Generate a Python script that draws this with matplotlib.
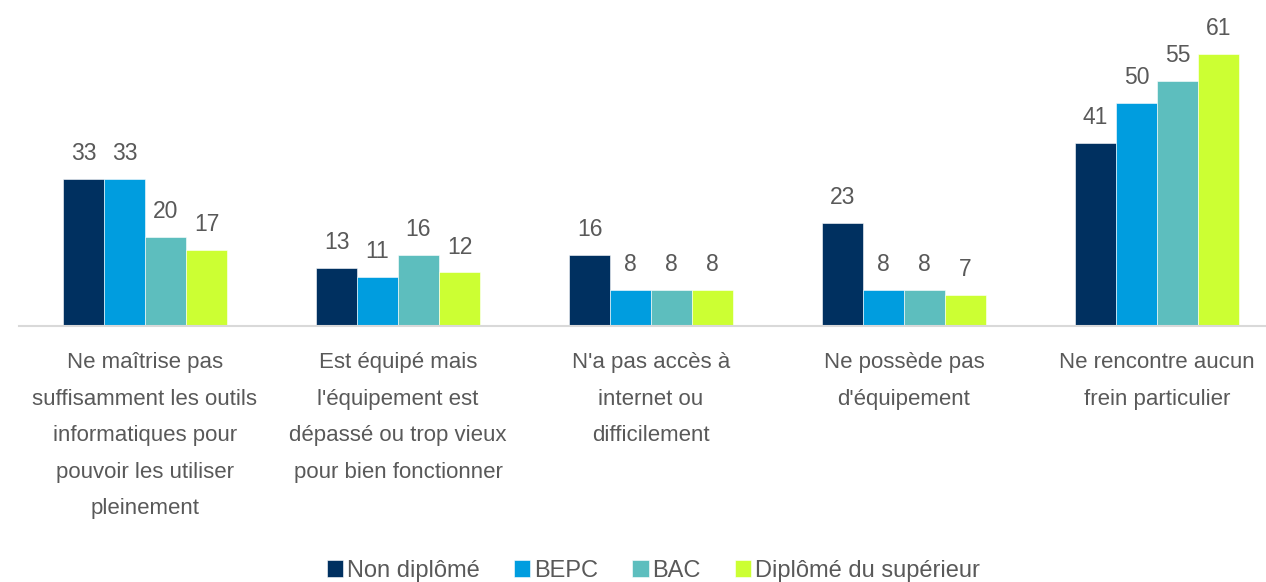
import matplotlib.pyplot as plt
import numpy as np

plt.rcParams['font.family'] = ['Liberation Sans', 'DejaVu Sans']

categories = [
    "Ne maîtrise pas\nsuffisamment les outils\ninformatiques pour\npouvoir les utiliser\npleinement",
    "Est équipé mais\nl'équipement est\ndépassé ou trop vieux\npour bien fonctionner",
    "N'a pas accès à\ninternet ou\ndifficilement",
    "Ne possède pas\nd'équipement",
    "Ne rencontre aucun\nfrein particulier",
]
series_names = ["Non diplômé", "BEPC", "BAC", "Diplômé du supérieur"]
non_diplome = [33, 13, 16, 23, 41]
bepc = [33, 11, 8, 8, 50]
bac = [20, 16, 8, 8, 55]
superieur = [17, 12, 8, 7, 61]
colors = ["#003060", "#009DDF", "#5DBEBE", "#CCFF33"]

text_color = "#595959"
fs = 16

fig = plt.figure(figsize=(12.66, 5.82), dpi=100)
ax = fig.add_axes([18.5 / 1266, 0.44, 1265 / 1266, 0.498])

x = np.arange(len(categories))
w = 0.162
series = [non_diplome, bepc, bac, superieur]
for i, (vals, name, c) in enumerate(zip(series, series_names, colors)):
    pos = x + (i - 1.5) * w
    bars = ax.bar(pos, vals, width=w, color=c, label=name, edgecolor="white", linewidth=0.4)
    for b, v in zip(bars, vals):
        ax.annotate(str(v), (b.get_x() + b.get_width() / 2, v), xytext=(0, 10),
                    textcoords="offset points", ha="center", va="bottom",
                    fontsize=fs + 0.5, color=text_color)

ax.set_xlim(-0.5, 4.5)
ax.set_ylim(0, 65)
ax.set_xticks(x)
ax.set_xticklabels(categories, fontsize=fs, color=text_color, linespacing=1.97, va="top")
ax.tick_params(axis="x", length=0, pad=19)
ax.set_yticks([])
for s in ["top", "right", "left"]:
    ax.spines[s].set_visible(False)
ax.spines["bottom"].set_color("#D9D9D9")
ax.spines["bottom"].set_linewidth(1.5)

leg = fig.legend(loc="center", bbox_to_anchor=(0.516, 0.019), ncol=4, frameon=False,
                 fontsize=17, handlelength=0.7, handleheight=0.7, handletextpad=0.15,
                 columnspacing=1.45)
for t in leg.get_texts():
    t.set_color(text_color)

fig.savefig("out.png", dpi=100)
